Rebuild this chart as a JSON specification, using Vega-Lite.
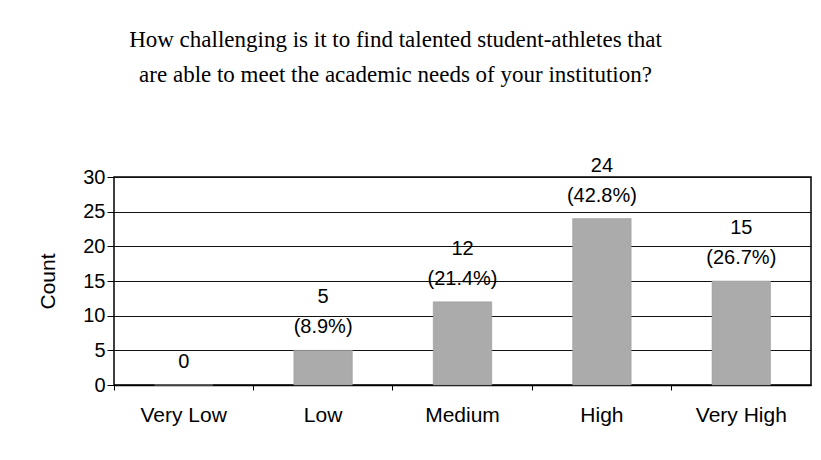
{
  "$schema": "https://vega.github.io/schema/vega-lite/v6.json",
  "width": 697,
  "height": 208,
  "autosize": {"type": "none"},
  "padding": {"left": 114, "top": 177, "right": 10, "bottom": 75},
  "background": "white",
  "title": {
    "text": ["How challenging is it to find talented student-athletes that", "are able to meet the academic needs of your institution?"],
    "font": "Liberation Serif",
    "fontSize": 23,
    "fontWeight": "normal",
    "color": "black",
    "anchor": "middle",
    "frame": "group",
    "dx": -67,
    "lineHeight": 35,
    "offset": 69
  },
  "config": {
    "view": {"stroke": "black", "strokeWidth": 1.5},
    "axis": {
      "labelFont": "Liberation Sans",
      "labelColor": "black",
      "titleFont": "Liberation Sans",
      "titleFontWeight": "normal",
      "titleColor": "black",
      "tickColor": "black",
      "domainColor": "black"
    }
  },
  "data": {
    "values": [
      {"level": "Very Low", "count": 0, "line1": "", "line2": "0"},
      {"level": "Low", "count": 5, "line1": "5", "line2": "(8.9%)"},
      {"level": "Medium", "count": 12, "line1": "12", "line2": "(21.4%)"},
      {"level": "High", "count": 24, "line1": "24", "line2": "(42.8%)"},
      {"level": "Very High", "count": 15, "line1": "15", "line2": "(26.7%)"}
    ]
  },
  "encoding": {
    "x": {
      "field": "level",
      "type": "nominal",
      "sort": null,
      "scale": {"paddingInner": 0, "paddingOuter": 0},
      "axis": {
        "title": null,
        "labelAngle": 0,
        "labelFontSize": 21,
        "bandPosition": 0,
        "tickSize": 5,
        "labelPadding": 14,
        "domain": true,
        "domainWidth": 1.5,
        "grid": false
      }
    },
    "y": {
      "field": "count",
      "type": "quantitative",
      "scale": {"domain": [0, 30], "nice": false},
      "axis": {
        "title": "Count",
        "titleFontSize": 21,
        "labelFontSize": 20,
        "values": [0, 5, 10, 15, 20, 25, 30],
        "tickSize": 7,
        "labelPadding": 2,
        "titlePadding": 24,
        "domain": false,
        "grid": true,
        "gridColor": "#111111",
        "gridWidth": 1,
        "gridOpacity": 1
      }
    }
  },
  "layer": [
    {
      "mark": {"type": "bar", "width": {"band": 0.42}, "fill": "#ababab", "stroke": "#999999", "strokeWidth": 0.5}
    },
    {
      "mark": {
        "type": "text",
        "baseline": "alphabetic",
        "dy": -47,
        "font": "Liberation Sans",
        "fontSize": 20,
        "color": "black"
      },
      "encoding": {"text": {"field": "line1"}}
    },
    {
      "mark": {
        "type": "text",
        "baseline": "alphabetic",
        "dy": -17,
        "font": "Liberation Sans",
        "fontSize": 20,
        "color": "black"
      },
      "encoding": {"text": {"field": "line2"}}
    }
  ]
}
